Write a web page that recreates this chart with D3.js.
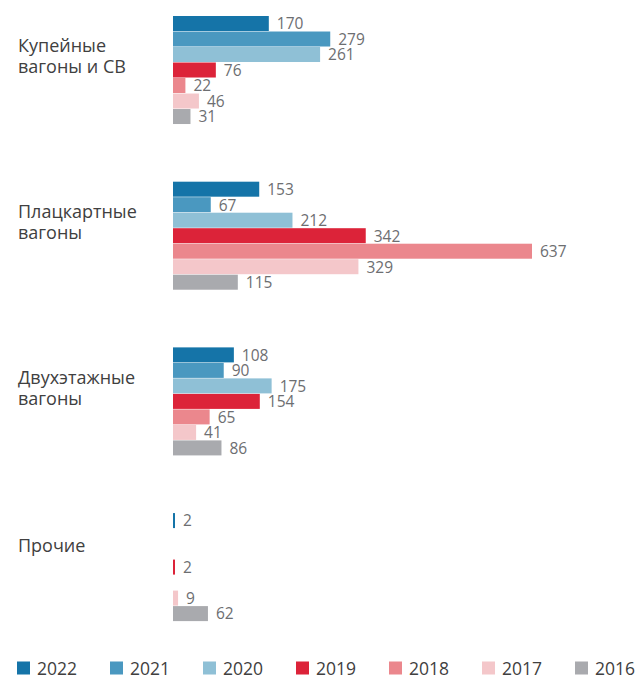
<!DOCTYPE html>
<html>
<head>
<meta charset="utf-8">
<script src="https://cdn.jsdelivr.net/npm/d3@7"></script>
<style>
  html, body { margin: 0; padding: 0; background: #fff; }
  svg { display: block; font-family: "Open Sans", "Noto Sans", sans-serif; }
</style>
</head>
<body>
<svg id="chart" width="636" height="678"></svg>
<script>
const categories = ["Купейные вагоны и СВ", "Плацкартные вагоны", "Двухэтажные вагоны", "Прочие"];
const categoryLines = [["Купейные", "вагоны и СВ"], ["Плацкартные", "вагоны"], ["Двухэтажные", "вагоны"], ["Прочие"]];
const years = ["2022", "2021", "2020", "2019", "2018", "2017", "2016"];
const v2022 = [170, 153, 108, 2];
const v2021 = [279, 67, 90, 0];
const v2020 = [261, 212, 175, 0];
const v2019 = [76, 342, 154, 2];
const v2018 = [22, 637, 65, 0];
const v2017 = [46, 329, 41, 9];
const v2016 = [31, 115, 86, 62];
const seriesValues = [v2022, v2021, v2020, v2019, v2018, v2017, v2016];
const colors = ["#1574a8", "#4a98c0", "#8fc0d6", "#dc2339", "#eb878d", "#f4c7ca", "#a9aaae"];

const svg = d3.select("#chart");

const y0 = d3.scaleBand().domain(categories).range([16, 621.6]).paddingInner(0.345).paddingOuter(0);
const y1 = d3.scaleBand().domain(years).range([0, y0.bandwidth()]).padding(0);
const x = d3.scaleLinear().domain([0, 637]).range([173, 532]);

const data = [];
categories.forEach((c, ci) => {
  years.forEach((yr, si) => {
    data.push({cat: c, ci, year: yr, si, value: seriesValues[si][ci]});
  });
});

const g = svg.append("g");
g.selectAll("rect.bar").data(data.filter(d => d.value > 0)).join("rect")
  .attr("class", "bar")
  .attr("x", x(0))
  .attr("y", d => y0(d.cat) + y1(d.year))
  .attr("width", d => Math.max(2, x(d.value) - x(0)))
  .attr("height", y1.bandwidth() - 0.5)
  .attr("fill", d => colors[d.si]);

g.selectAll("text.val").data(data.filter(d => d.value > 0)).join("text")
  .attr("class", "val")
  .attr("x", d => x(0) + Math.max(2, x(d.value) - x(0)) + 8)
  .attr("y", d => y0(d.cat) + y1(d.year) + y1.bandwidth() / 2)
  .attr("dy", "0.36em")
  .attr("font-size", 15.5)
  .attr("fill", "#6d6e71")
  .text(d => d.value);

// category labels
categories.forEach((c, ci) => {
  const lines = categoryLines[ci];
  const cy = y0(c) + y0.bandwidth() / 2;
  const first = cy - 18 + (lines.length === 1 ? 3 : 0);
  const t = svg.append("text")
    .attr("x", 18)
    .attr("font-size", 18)
    .attr("fill", "#404040");
  lines.forEach((ln, li) => {
    t.append("tspan").attr("x", 18).attr("y", first + li * 21).text(ln);
  });
});

// legend
const legend = svg.append("g").attr("transform", "translate(17,661.5)");
const lx = d3.scalePoint().domain(years).range([0, 558]);
const items = legend.selectAll("g").data(years).join("g")
  .attr("transform", d => `translate(${lx(d)},0)`);
items.append("rect").attr("width", 13).attr("height", 13)
  .attr("fill", (d, i) => colors[i]);
items.append("text").attr("x", 20).attr("y", 13)
  .attr("font-size", 17.5).attr("fill", "#404040")
  .text(d => d);
</script>
</body>
</html>
